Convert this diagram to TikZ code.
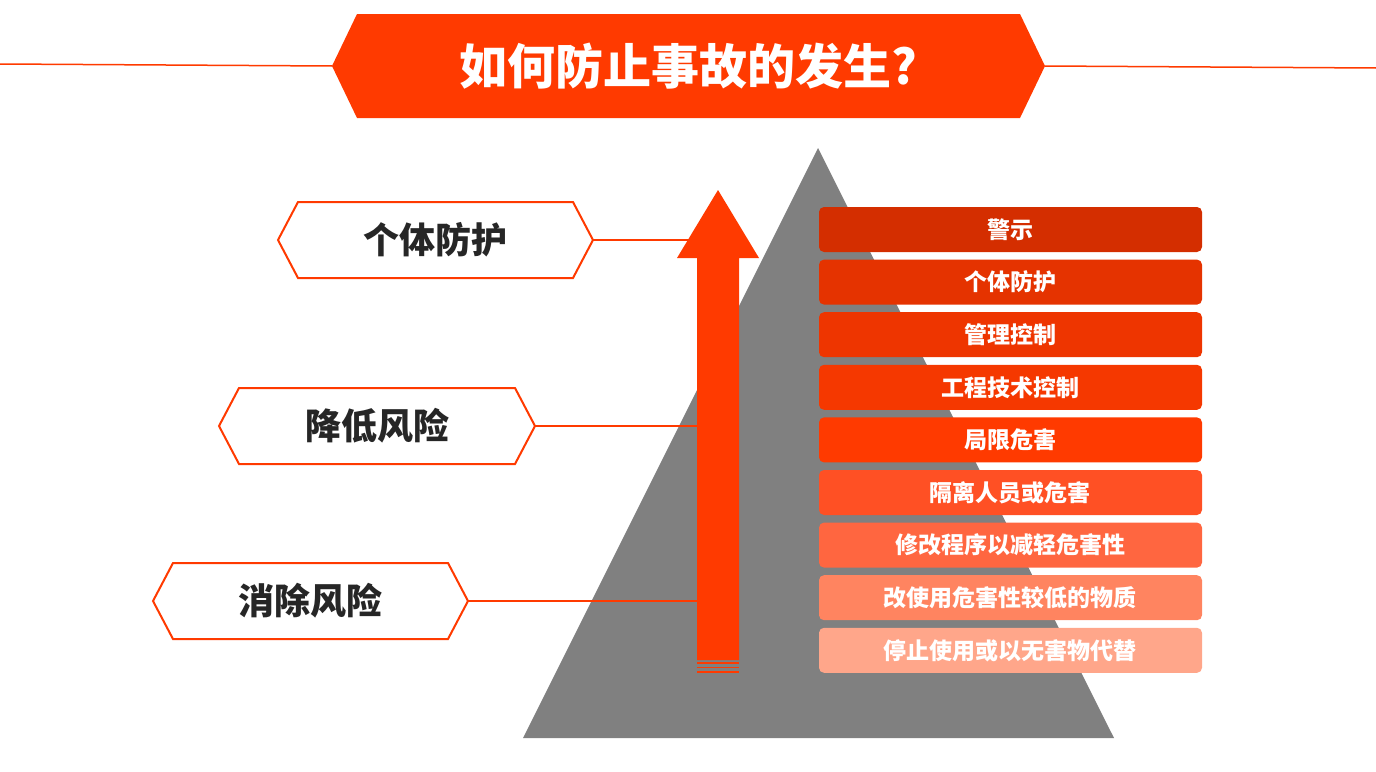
\documentclass[tikz,border=0pt]{standalone}
\usepackage{fontspec}
\setmainfont{Noto Sans CJK SC}
\definecolor{org}{HTML}{FF3A00}
\definecolor{gry}{HTML}{808080}
\begin{document}
\begin{tikzpicture}[x=1pt,y=-1pt,
  hexl/.style={draw=org,line width=2pt,fill=white},
  bar/.style={rounded corners=5pt},
  bartxt/.style={text=white,font=\bfseries\fontsize{23}{26}\selectfont},
  lbl/.style={text=black!85,font=\bfseries\fontsize{36}{40}\selectfont},
  conn/.style={draw=org,line width=1.5pt}]
\useasboundingbox (0,0) rectangle (1376,771);
% title
\coordinate (tl) at (0,64);
\coordinate (tr) at (1376,68);
\draw[conn] (tl) -- (332,66);
\draw[conn] (1045,66) -- (tr);
\fill[org] (332,66) -- (357,14) -- (1020,14) -- (1045,66) -- (1020,118) -- (357,118) -- cycle;
\node[text=white,font=\bfseries\fontsize{48}{54}\selectfont] (title) at (688,66) {如何防止事故的发生?};
% triangle
\fill[gry] (818,148) -- (1114,738) -- (523,738) -- cycle;
% arrow
\fill[org] (697,660) -- (697,258) -- (677,258) -- (718,190) -- (759,258) -- (739,258) -- (739,660) -- cycle;
\foreach \y in {663,667.5,672} \draw[org,line width=1.8pt] (697,\y) -- (739,\y);
% bars
\foreach \i/\t/\c in {0/警示/D42E00,1/个体防护/E53300,2/管理控制/EE3500,3/工程技术控制/F53800,4/局限危害/FF3A00,5/隔离人员或危害/FF5024,6/修改程序以减轻危害性/FF6640,7/改使用危害性较低的物质/FF8460,8/停止使用或以无害物代替/FFA68A}{
  \definecolor{bc}{HTML}{\c}
  \fill[bc,bar] (819,{207+52.6*\i}) rectangle (1202,{252+52.6*\i});
  \node[bartxt] (b\i) at (1010,{229.5+52.6*\i}) {\t};
}
% left labels
\foreach \n/\xa/\xb/\y/\t in {h1/278/593/240/个体防护,h2/219/535/426/降低风险,h3/153/468/601/消除风险}{
  \draw[hexl] (\xa,\y) -- (\xa+20,\y-38) -- (\xb-20,\y-38) -- (\xb,\y) -- (\xb-20,\y+38) -- (\xa+20,\y+38) -- cycle;
  \node[lbl] (\n) at ({(\xa+\xb)/2},\y) {\t};
  \coordinate (\n r) at (\xb,\y);
  \coordinate (\n a) at (697,\y);
  \draw[conn] (\n r) -- (\n a);
}
\end{tikzpicture}
\end{document}
